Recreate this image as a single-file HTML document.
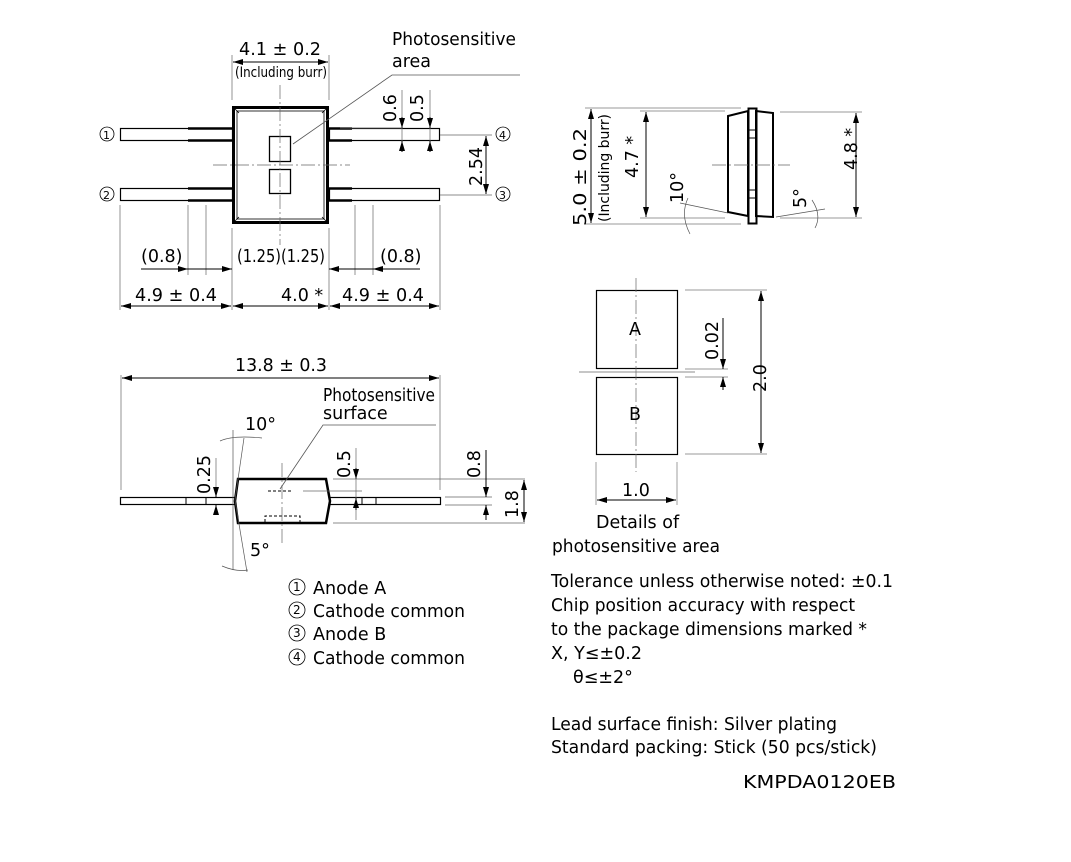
<!DOCTYPE html>
<html><head><meta charset="utf-8"><style>
html,body{margin:0;padding:0;background:#fff}
svg{display:block}
text{font-family:"DejaVu Sans","Liberation Sans",sans-serif;fill:#000}
.t{font-size:17.5px}
.s{font-size:14px}
</style></head><body>
<svg width="1071" height="862" viewBox="0 0 1071 862" xmlns="http://www.w3.org/2000/svg">
<defs>
<marker id="a" viewBox="0 0 10 6" refX="10" refY="3" markerWidth="10" markerHeight="6" orient="auto-start-reverse" markerUnits="userSpaceOnUse"><path d="M0,0 L10,3 L0,6 z" fill="#000"/></marker>
</defs>
<g fill="none" stroke="#000" stroke-width="1">
<rect x="233.5" y="107.5" width="94" height="115" stroke-width="3"/>
<rect x="237" y="111" width="87" height="108" stroke-width="0.8"/>
<path d="M235 109 L239 113 M326 109 L322 113 M235 221 L239 217 M326 221 L322 217" stroke-width="0.8"/>
<rect x="269.5" y="136.5" width="21" height="25" stroke-width="1.3"/>
<rect x="269.5" y="169.5" width="21" height="24" stroke-width="1.3"/>
<path d="M280 85 V245 M213 165 H350" stroke="#666" stroke-width="0.7" stroke-dasharray="14 3 2 3"/>
<rect x="120.5" y="128.5" width="112" height="12" stroke-width="1.2"/>
<rect x="120.5" y="188.5" width="112" height="12" stroke-width="1.2"/>
<path d="M188 128.5 H232 M188 140.5 H232 M188 188.5 H232 M188 200.5 H232" stroke-width="2.5"/>
<rect x="329.5" y="128.5" width="110" height="12" stroke-width="1.2"/>
<rect x="329.5" y="188.5" width="110" height="12" stroke-width="1.2"/>
<path d="M329 128.5 H352 M329 140.5 H352 M329 188.5 H352 M329 200.5 H352" stroke-width="2.5"/>
<path d="M232 55 V100 M329 55 V100" stroke="#666" stroke-width="0.7"/>
<line x1="233" y1="62" x2="328" y2="62" marker-start="url(#a)" marker-end="url(#a)"/>
<path d="M293 144 L392 75 H520" stroke="#555" stroke-width="0.8"/>
<path d="M402 90 V152 M430 90 V152" stroke="#666" stroke-width="0.7"/>
<line x1="402" y1="117" x2="402" y2="128" marker-end="url(#a)"/>
<line x1="402" y1="152" x2="402" y2="141" marker-end="url(#a)"/>
<line x1="430" y1="117" x2="430" y2="128" marker-end="url(#a)"/>
<line x1="430" y1="152" x2="430" y2="141" marker-end="url(#a)"/>
<path d="M340 128 H402 M440 135 H492 M440 195 H492" stroke="#666" stroke-width="0.7"/>
<line x1="486" y1="136" x2="486" y2="194" marker-start="url(#a)" marker-end="url(#a)"/>
<path d="M120 205 V310 M188 205 V275 M206 205 V275 M232 228 V310 M329 228 V310 M355 205 V275 M373 205 V275 M440 205 V310" stroke="#666" stroke-width="0.7"/>
<line x1="141" y1="269" x2="188" y2="269" marker-end="url(#a)"/>
<line x1="188" y1="269" x2="232" y2="269" marker-end="url(#a)"/>
<line x1="420" y1="269" x2="373" y2="269" marker-end="url(#a)"/>
<line x1="373" y1="269" x2="329" y2="269" marker-end="url(#a)"/>
<line x1="121" y1="306" x2="231" y2="306" marker-start="url(#a)" marker-end="url(#a)"/>
<line x1="233" y1="306" x2="328" y2="306" marker-start="url(#a)" marker-end="url(#a)"/>
<line x1="330" y1="306" x2="439" y2="306" marker-start="url(#a)" marker-end="url(#a)"/>
<circle cx="107" cy="134" r="7" stroke-width="0.8"/>
<circle cx="107" cy="194" r="7" stroke-width="0.8"/>
<circle cx="503" cy="134" r="7" stroke-width="0.8"/>
<circle cx="503" cy="194" r="7" stroke-width="0.8"/>

<path d="M121 375 V490 M440 375 V490" stroke="#666" stroke-width="0.7"/>
<line x1="122" y1="378" x2="439" y2="378" marker-start="url(#a)" marker-end="url(#a)"/>
<rect x="120.5" y="497.5" width="320" height="7" stroke-width="1.2"/>
<path d="M186 497 V504 M206 497 V504 M362 497 V504 M376 497 V504" stroke-width="1"/>
<polygon points="238,479 326,479 330,501 326,523 238,523 235,501" fill="#fff" stroke-width="2.5"/>
<path d="M268 491 H293 M265 522 V516 H300 V522" stroke-width="1" stroke-dasharray="3 2"/>
<path d="M282 463 V545" stroke="#666" stroke-width="0.7" stroke-dasharray="14 3 2 3"/>
<path d="M280 489 L323 425 H436" stroke="#555" stroke-width="0.8"/>
<path d="M303 491 H362" stroke="#666" stroke-width="0.7"/>
<path d="M233 430 V570 M244 438 L235 500 L247 572" stroke="#555" stroke-width="0.7"/>
<path d="M220 441 Q233 435 262 438 M222 566 Q236 572 248 570" stroke="#555" stroke-width="0.7"/>
<line x1="216" y1="458" x2="216" y2="496" stroke="#666" stroke-width="0.7"/>
<line x1="216" y1="490" x2="216" y2="497" marker-end="url(#a)"/>
<line x1="216" y1="515" x2="216" y2="505" marker-end="url(#a)"/>
<path d="M356 448 V520" stroke="#666" stroke-width="0.7"/>
<line x1="356" y1="468" x2="356" y2="479" marker-end="url(#a)"/>
<line x1="356" y1="510" x2="356" y2="498" marker-end="url(#a)"/>
<path d="M333 479 H525 M333 523 H525 M445 497 H492 M445 505 H492" stroke="#666" stroke-width="0.7"/>
<line x1="486" y1="450" x2="486" y2="497" marker-end="url(#a)"/>
<line x1="486" y1="520" x2="486" y2="505" marker-end="url(#a)"/>
<line x1="524" y1="480" x2="524" y2="522" marker-start="url(#a)" marker-end="url(#a)"/>

<polygon points="728,116 748,111 748,216 728,212" stroke-width="2"/>
<polygon points="756,111 773,113 773,217 756,216" stroke-width="2"/>
<rect x="748.5" y="108.5" width="8" height="115" stroke-width="2"/>
<path d="M749 130 H756 M749 138 H756 M749 190 H756 M749 198 H756" stroke-width="1"/>
<path d="M712 165 H790" stroke="#666" stroke-width="0.7" stroke-dasharray="14 3 2 3"/>
<path d="M585 108 H741 M585 224 H741 M640 111 H725 M640 218 H725 M780 112 H862 M780 218 H862" stroke="#777" stroke-width="0.7"/>
<line x1="591" y1="109" x2="591" y2="223" marker-start="url(#a)" marker-end="url(#a)"/>
<line x1="646" y1="112" x2="646" y2="217" marker-start="url(#a)" marker-end="url(#a)"/>
<line x1="856" y1="113" x2="856" y2="217" marker-start="url(#a)" marker-end="url(#a)"/>
<path d="M680 203 L728 213 M776 217 L825 209" stroke="#555" stroke-width="0.7"/>
<path d="M688 198 Q680 215 690 234 M812 200 Q822 215 815 228" stroke="#555" stroke-width="0.7"/>

<rect x="596.5" y="290.5" width="81" height="78" stroke-width="1.2"/>
<rect x="596.5" y="377.5" width="81" height="77" stroke-width="1.2"/>
<path d="M636 278 V472" stroke="#666" stroke-width="0.7" stroke-dasharray="14 3 2 3"/>
<path d="M579 372 H695" stroke="#666" stroke-width="0.7"/>
<path d="M685 290 H767 M685 454 H767 M685 369 H728 M685 377 H728 M596 462 V505 M677 462 V505" stroke="#777" stroke-width="0.7"/>
<line x1="723" y1="318" x2="723" y2="369" marker-end="url(#a)"/>
<line x1="723" y1="390" x2="723" y2="377" marker-end="url(#a)"/>
<line x1="761" y1="291" x2="761" y2="453" marker-start="url(#a)" marker-end="url(#a)"/>
<line x1="597" y1="500" x2="676" y2="500" marker-start="url(#a)" marker-end="url(#a)"/>
<circle cx="297" cy="587" r="8" stroke-width="0.8"/>
<circle cx="297" cy="610" r="8" stroke-width="0.8"/>
<circle cx="297" cy="633" r="8" stroke-width="0.8"/>
<circle cx="297" cy="657" r="8" stroke-width="0.8"/>
</g>

<text class="t" x="239" y="55" textLength="82" lengthAdjust="spacingAndGlyphs">4.1 ± 0.2</text>
<text class="s" x="235" y="77" textLength="92" lengthAdjust="spacingAndGlyphs">(Including burr)</text>
<text class="t" x="392" y="45" textLength="124" lengthAdjust="spacingAndGlyphs">Photosensitive</text>
<text class="t" x="392" y="67">area</text>
<text class="t" transform="translate(396,122) rotate(-90)">0.6</text>
<text class="t" transform="translate(423,122) rotate(-90)">0.5</text>
<text class="t" transform="translate(482,186) rotate(-90)">2.54</text>
<text x="103" y="139" font-size="11">1</text>
<text x="103" y="199" font-size="11">2</text>
<text x="499" y="139" font-size="11">4</text>
<text x="499" y="199" font-size="11">3</text>
<text class="t" x="141" y="262">(0.8)</text>
<text class="t" x="237" y="262" textLength="88" lengthAdjust="spacingAndGlyphs">(1.25)(1.25)</text>
<text class="t" x="380" y="262">(0.8)</text>
<text class="t" x="135" y="301" textLength="82" lengthAdjust="spacingAndGlyphs">4.9 ± 0.4</text>
<text class="t" x="281" y="301">4.0 *</text>
<text class="t" x="342" y="301" textLength="82" lengthAdjust="spacingAndGlyphs">4.9 ± 0.4</text>

<text class="t" x="235" y="371" textLength="92" lengthAdjust="spacingAndGlyphs">13.8 ± 0.3</text>
<text class="t" x="323" y="401" textLength="112" lengthAdjust="spacingAndGlyphs">Photosensitive</text>
<text class="t" x="323" y="419">surface</text>
<text class="t" x="245" y="430">10°</text>
<text class="t" transform="translate(210,494) rotate(-90)">0.25</text>
<text class="t" transform="translate(350,478) rotate(-90)">0.5</text>
<text class="t" transform="translate(480,478) rotate(-90)">0.8</text>
<text class="t" transform="translate(518,518) rotate(-90)">1.8</text>
<text class="t" x="250" y="556">5°</text>

<text class="t" transform="translate(586,226) rotate(-90)" textLength="98" lengthAdjust="spacingAndGlyphs">5.0 ± 0.2</text>
<text class="s" transform="translate(609,222) rotate(-90)" textLength="108" lengthAdjust="spacingAndGlyphs">(Including burr)</text>
<text class="t" transform="translate(638,178) rotate(-90)">4.7 *</text>
<text class="t" transform="translate(683,203) rotate(-90)">10°</text>
<text class="t" transform="translate(806,208) rotate(-90)">5°</text>
<text class="t" transform="translate(857,170) rotate(-90)">4.8 *</text>

<text class="t" x="629" y="335">A</text>
<text class="t" x="629" y="420">B</text>
<text class="t" transform="translate(718,360) rotate(-90)">0.02</text>
<text class="t" transform="translate(766,392) rotate(-90)">2.0</text>
<text class="t" x="622" y="496">1.0</text>
<text class="t" x="596" y="528">Details of</text>
<text class="t" x="552" y="552" textLength="168" lengthAdjust="spacingAndGlyphs">photosensitive area</text>

<g font-size="12"><text x="293" y="591">1</text><text x="293" y="614">2</text><text x="293" y="637">3</text><text x="293" y="661">4</text></g>
<text class="t" x="313" y="594">Anode A</text>
<text class="t" x="313" y="617" textLength="152" lengthAdjust="spacingAndGlyphs">Cathode common</text>
<text class="t" x="313" y="640">Anode B</text>
<text class="t" x="313" y="664" textLength="152" lengthAdjust="spacingAndGlyphs">Cathode common</text>

<text class="t" x="551" y="587" textLength="342" lengthAdjust="spacingAndGlyphs">Tolerance unless otherwise noted: ±0.1</text>
<text class="t" x="551" y="611" textLength="304" lengthAdjust="spacingAndGlyphs">Chip position accuracy with respect</text>
<text class="t" x="551" y="635" textLength="316" lengthAdjust="spacingAndGlyphs">to the package dimensions marked *</text>
<text class="t" x="551" y="659">X, Y≤±0.2</text>
<text class="t" x="573" y="683">θ≤±2°</text>
<text class="t" x="551" y="730" textLength="286" lengthAdjust="spacingAndGlyphs">Lead surface finish: Silver plating</text>
<text class="t" x="551" y="753" textLength="326" lengthAdjust="spacingAndGlyphs">Standard packing: Stick (50 pcs/stick)</text>
<text class="t" x="743" y="788" textLength="153" lengthAdjust="spacingAndGlyphs">KMPDA0120EB</text>
</svg>
</body></html>
